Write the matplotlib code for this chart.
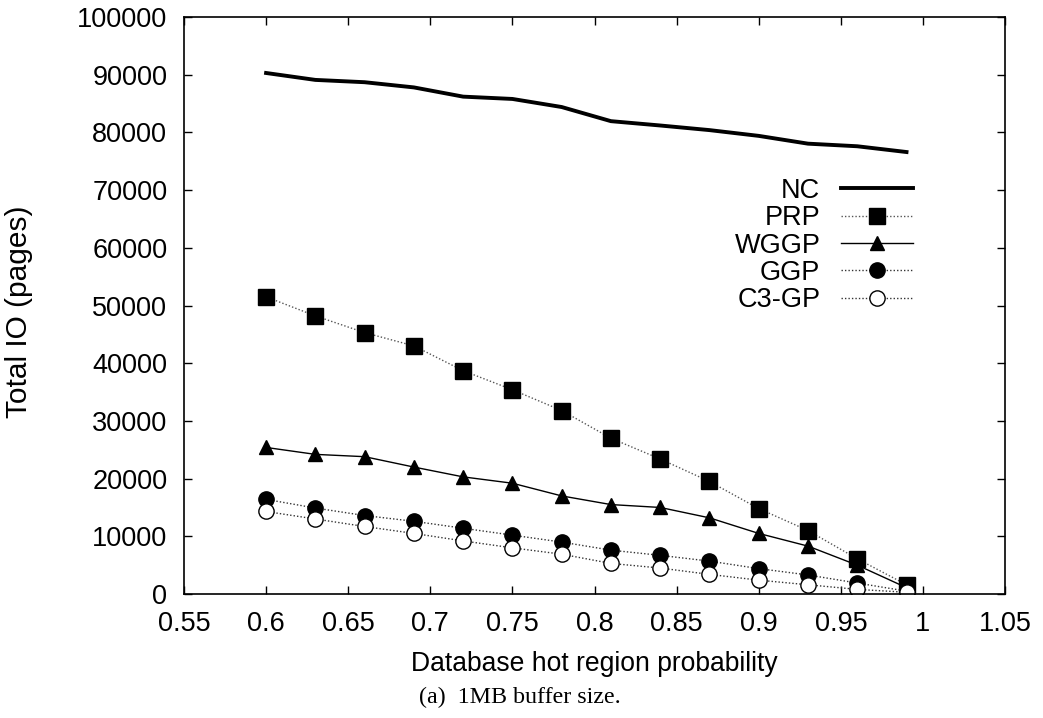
import matplotlib
matplotlib.use('Agg')
import matplotlib.pyplot as plt

# hot region probability
probs = [0.6, 0.63, 0.66, 0.69, 0.72, 0.75, 0.78, 0.81, 0.84, 0.87, 0.9, 0.93, 0.96, 0.99]

nc = [90300, 89100, 88700, 87800, 86200, 85800, 84400, 81950, 81200, 80400, 79400, 78050, 77600, 76600]
prp = [51500, 48200, 45300, 43000, 38700, 35400, 31800, 27000, 23400, 19500, 14800, 11000, 6100, 1600]
wggp = [25400, 24200, 23800, 22000, 20300, 19200, 17000, 15500, 15000, 13200, 10500, 8300, 5000, 1100]
ggp = [16400, 14900, 13600, 12600, 11400, 10200, 9000, 7600, 6700, 5700, 4400, 3300, 1900, 500]
c3gp = [14300, 13000, 11700, 10500, 9200, 8000, 6900, 5300, 4500, 3400, 2400, 1600, 800, 300]

plt.rcParams['font.family'] = ['Liberation Sans', 'DejaVu Sans']

fig = plt.figure(figsize=(10.43, 7.18), dpi=100)
ax = fig.add_axes([0.1764, 0.1727, 0.7872, 0.8036])

ax.plot(probs, nc, color='black', lw=2.8, label='NC')
ax.plot(probs, prp, color='#555555', lw=1.0, ls=(0, (1, 1.5)), marker='s', ms=11.5,
        mfc='black', mec='black', label='PRP')
ax.plot(probs, wggp, color='black', lw=1.0, marker='^', ms=10,
        mfc='black', mec='black', label='WGGP')
ax.plot(probs, ggp, color='#333333', lw=1.0, ls=(0, (1, 1.5)), marker='o', ms=11,
        mfc='black', mec='black', label='GGP')
ax.plot(probs, c3gp, color='#333333', lw=1.0, ls=(0, (1, 1.5)), marker='o', ms=11,
        mfc='white', mec='black', mew=1.0, label='C3-GP')

ax.set_xlim(0.55, 1.05)
ax.set_ylim(0, 100000)
ax.set_xticks([0.55, 0.6, 0.65, 0.7, 0.75, 0.8, 0.85, 0.9, 0.95, 1, 1.05])
ax.set_xticklabels(['0.55', '0.6', '0.65', '0.7', '0.75', '0.8', '0.85', '0.9', '0.95', '1', '1.05'])
ax.set_yticks(range(0, 100001, 10000))
ax.set_yticklabels([str(v) for v in range(0, 100001, 10000)])
ax.tick_params(direction='in', top=True, right=True, length=6, width=1, labelsize=19.5)
ax.tick_params(axis='x', pad=12.5)
ax.tick_params(axis='y', pad=12)
for sp in ax.spines.values():
    sp.set_linewidth(1.2)

ax.set_xlabel('Database hot region probability', fontsize=19.1, labelpad=10)
ax.set_ylabel('Total IO (pages)', fontsize=21.5)
ax.yaxis.set_label_coords(-0.184, 0.489)

leg = ax.legend(loc='upper right', bbox_to_anchor=(0.901, 0.74), frameon=False,
                markerfirst=False, fontsize=19.5, handlelength=2.67, labelspacing=0.05,
                handletextpad=0.75, borderaxespad=0)

fig.text(0.4986, 0.029, '(a)  1MB buffer size.', ha='center', va='center',
         fontsize=17.3, family=['Liberation Serif', 'DejaVu Serif'])

plt.savefig('out.png', dpi=100)
